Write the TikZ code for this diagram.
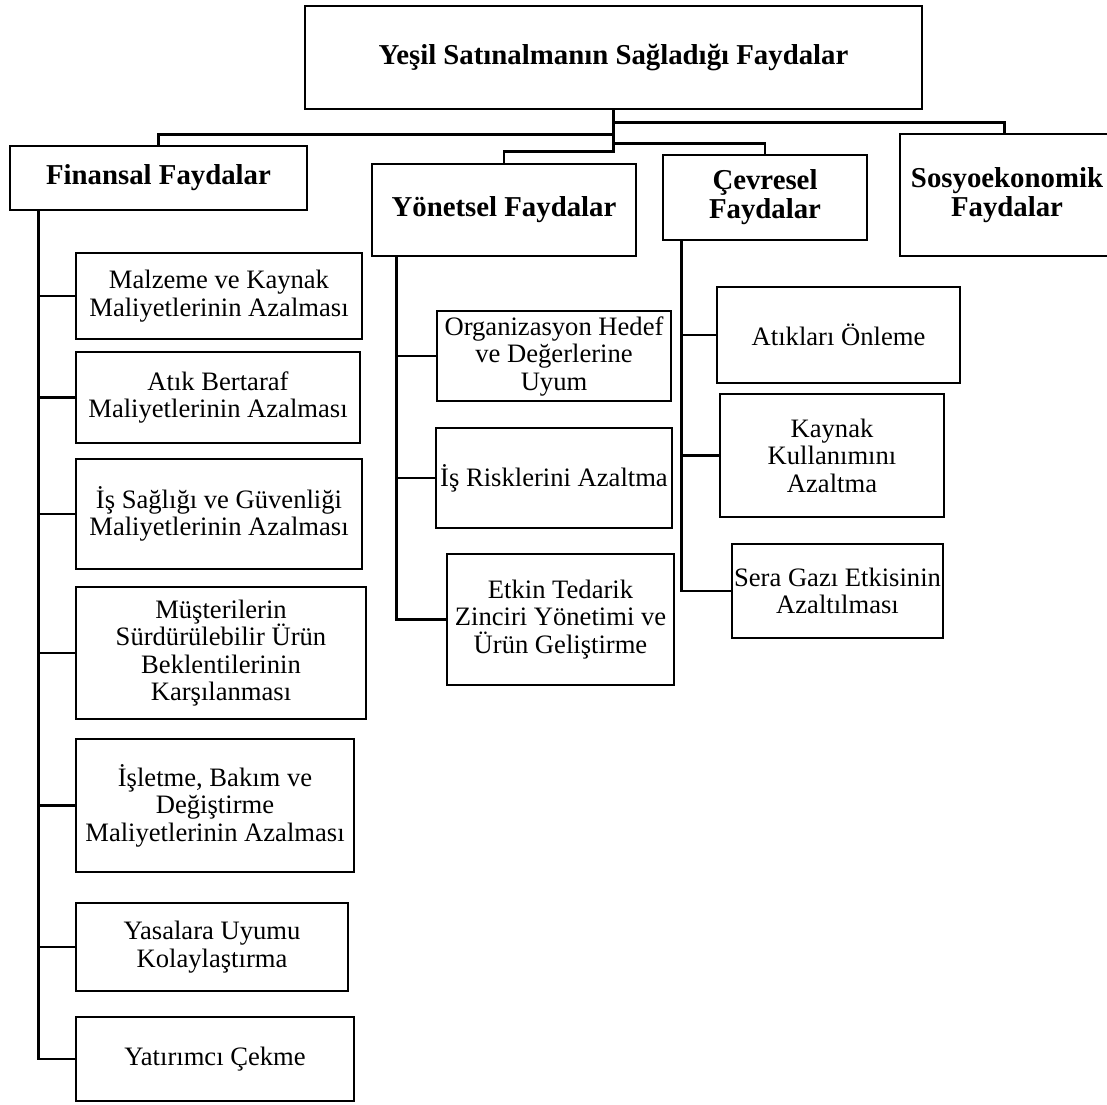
\documentclass[tikz,border=0pt]{standalone}
\usepackage{fontspec}
\setmainfont{Liberation Serif}
\usetikzlibrary{positioning}

\begin{document}
\begin{tikzpicture}
	[
		x=1pt, y=-1pt,
		box/.style={draw, line width=2.8pt, inner sep=0pt, align=center, font=\fontsize{26.6}{27.5}\selectfont},
		head/.style={box, font=\fontsize{28.8}{29}\selectfont\bfseries},
		link/.style={line width=2.8pt}
	]
	\useasboundingbox (0,0) rectangle (1107,1104);

	% Draw main box.
	\node[head, minimum width=617, minimum height=103] (top) at (613.5,57.5) {Yeşil Satınalmanın Sağladığı Faydalar};

	% Draw benefit groups.
	\node[head, minimum width=297, minimum height=64] (fin) at (158.5,178) {Finansal Faydalar};
	\node[head, minimum width=264, minimum height=92] (yon) at (504,210) {Yönetsel Faydalar};
	\node[head, minimum width=204, minimum height=85] (cev) at (765,197.5) {Çevresel\\Faydalar};
	\node[head, minimum width=214, minimum height=122] (sos) at (1007,195) {Sosyoekonomik\\Faydalar};

	% Draw financial benefits.
	\node[box, minimum width=286, minimum height=86] (malz) at (219,296) {Malzeme ve Kaynak\\Maliyetlerinin Azalması};
	\node[box, minimum width=284, minimum height=91] (atik) at (218,397.5) {Atık Bertaraf\\Maliyetlerinin Azalması};
	\node[box, minimum width=286, minimum height=110] (isg) at (219,514) {İş Sağlığı ve Güvenliği\\Maliyetlerinin Azalması};
	\node[box, minimum width=290, minimum height=132] (must) at (221,653) {Müşterilerin\\Sürdürülebilir Ürün\\Beklentilerinin\\Karşılanması};
	\node[box, minimum width=278, minimum height=133] (islet) at (215,805.5) {İşletme, Bakım ve\\Değiştirme\\Maliyetlerinin Azalması};
	\node[box, minimum width=272, minimum height=88] (yasa) at (212,947) {Yasalara Uyumu\\Kolaylaştırma};
	\node[box, minimum width=278, minimum height=84] (yatir) at (215,1059) {Yatırımcı Çekme};

	% Draw managerial benefits.
	\node[box, minimum width=234, minimum height=90] (org) at (554,356) {Organizasyon Hedef\\ve Değerlerine\\Uyum};
	\node[box, minimum width=236, minimum height=100] (risk) at (554,478) {İş Risklerini Azaltma};
	\node[box, minimum width=227, minimum height=131] (etkin) at (560.5,619.5) {Etkin Tedarik\\Zinciri Yönetimi ve\\Ürün Geliştirme};

	% Draw environmental benefits.
	\node[box, minimum width=243, minimum height=96] (onle) at (838.5,335) {Atıkları Önleme};
	\node[box, minimum width=224, minimum height=123] (kayn) at (832,455.5) {Kaynak\\Kullanımını\\Azaltma};
	\node[box, minimum width=211, minimum height=94] (sera) at (837.5,591) {Sera Gazı Etkisinin\\Azaltılması};

	% Draw links from main box.
	\draw[link] (top.south) -- ++(0,24) -| (fin.north);
	\draw[link] (top.south) -- ++(0,41) -| (yon.north);
	\draw[link] (top.south) -- ++(0,33) -| (cev.north);
	\draw[link] (top.south) -- ++(0,12) -| ([xshift=-2.5pt]sos.north);

	% Draw trunks of the groups.
	\coordinate (fint) at ([xshift=30pt]fin.south west);
	\coordinate (yont) at ([xshift=26pt]yon.south west);
	\coordinate (cevt) at ([xshift=20pt]cev.south west);

	\foreach \n in {malz,atik,isg,must,islet,yasa,yatir}
		\draw[link] (fint) |- (\n.west);
	\foreach \n in {org,risk,etkin}
		\draw[link] (yont) |- (\n.west);
	\foreach \n in {onle,kayn,sera}
		\draw[link] (cevt) |- (\n.west);
\end{tikzpicture}
\end{document}
